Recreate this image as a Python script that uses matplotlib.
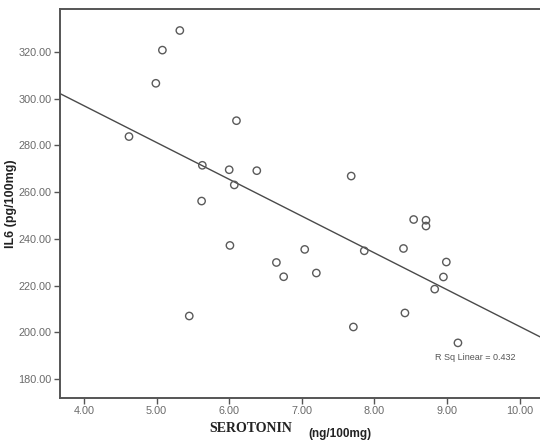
import numpy as np
import matplotlib.pyplot as plt

# values
serotonin = [5.32, 5.08, 4.99, 4.62, 6.10, 5.63, 6.00, 6.07, 6.38, 5.62,
             6.01, 5.45, 7.68, 8.54, 8.71, 8.71, 6.65, 6.75, 7.04, 7.20,
             7.86, 8.40, 7.71, 8.42, 8.99, 8.95, 8.83, 9.15]
il6 = [329.2, 320.8, 306.6, 283.8, 290.6, 271.5, 269.6, 263.1, 269.2, 256.2,
       237.2, 207.0, 266.9, 248.3, 248.0, 245.5, 229.9, 223.8, 235.5, 225.4,
       234.9, 235.9, 202.3, 208.3, 230.1, 223.7, 218.5, 195.5]

fit_intercept = 360.0
fit_slope = -15.75
r_sq_label = "R Sq Linear = 0.432"

x_ticks = [4, 5, 6, 7, 8, 9, 10]
y_ticks = [180, 200, 220, 240, 260, 280, 300, 320]

fig = plt.figure(figsize=(5.4, 4.43), dpi=100)
ax = fig.add_axes([60 / 540, 45 / 443, 480 / 540, 389 / 443])

xlim = (3.67, 10.28)
ylim = (171.9, 338.4)

ax.scatter(serotonin, il6, s=28, facecolors="none", edgecolors="#5a5a5a",
           linewidths=1.0, zorder=3)

xs = np.array(xlim)
ax.plot(xs, fit_intercept + fit_slope * xs, color="#4a4a4a", lw=1.0, zorder=2)

ax.set_xlim(*xlim)
ax.set_ylim(*ylim)
ax.set_xticks(x_ticks)
ax.set_xticklabels([f"{v:.2f}" for v in x_ticks])
ax.set_yticks(y_ticks)
ax.set_yticklabels([f"{v:.2f}" for v in y_ticks])

for side in ["left", "top", "bottom"]:
    ax.spines[side].set_color("#555555")
    ax.spines[side].set_linewidth(1.4)
ax.spines["right"].set_visible(False)

ax.tick_params(axis="both", direction="out", length=4, width=1,
               color="#555555", labelsize=7.8, labelcolor="#6a6a6a",
               pad=2)
for lbl in ax.get_xticklabels() + ax.get_yticklabels():
    lbl.set_family("Liberation Sans")

ax.text(0.781, 0.105, r_sq_label, transform=ax.transAxes, fontsize=6.5,
        color="#555555", family="Liberation Sans", va="center", ha="left")

ax.set_ylabel("IL6 (pg/100mg)", fontsize=9, fontweight="bold",
              family="Liberation Sans", labelpad=1, color="#222222")

fig.text(209 / 540, 1 - 429 / 443, "SEROTONIN", fontsize=10, fontweight="bold",
         family="Liberation Serif", va="center", ha="left", color="#222222")
fig.text(308 / 540, 1 - 434 / 443, "(ng/100mg)", fontsize=8.5,
         fontweight="bold", family="Liberation Sans", va="center", ha="left",
         color="#222222")

fig.savefig("out.png", dpi=100)
